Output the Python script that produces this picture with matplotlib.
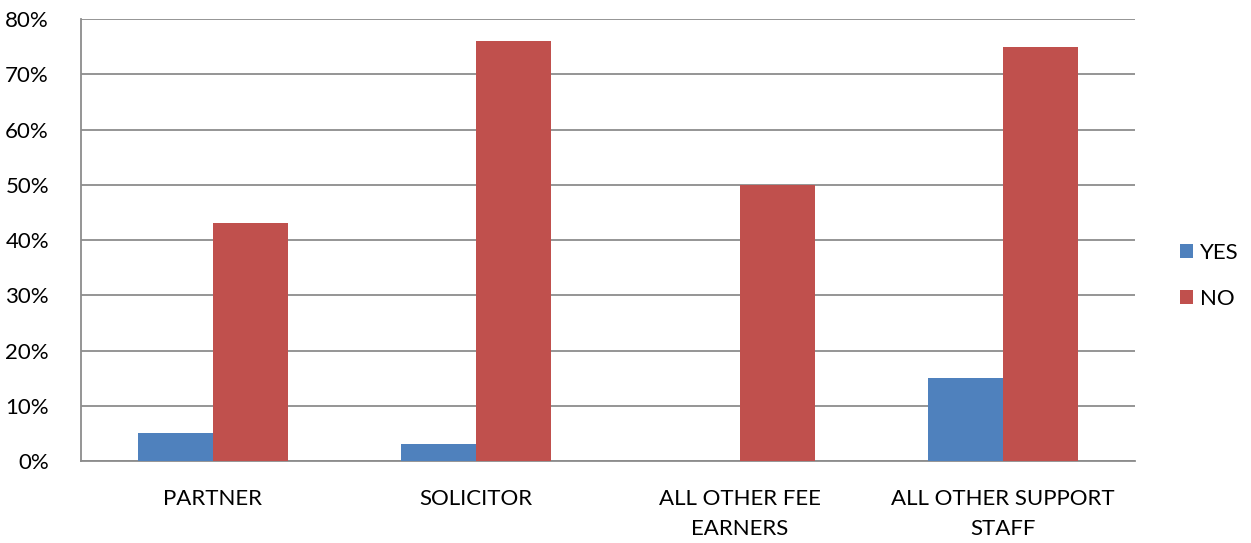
import matplotlib
matplotlib.use("Agg")
import matplotlib.pyplot as plt
import numpy as np

categories = ["PARTNER", "SOLICITOR", "ALL OTHER FEE\nEARNERS", "ALL OTHER SUPPORT\nSTAFF"]
yes_values = [5, 3, 0, 15]
no_values = [43, 76, 50, 75]
y_ticks = [0, 10, 20, 30, 40, 50, 60, 70, 80]

plt.rcParams['font.family'] = ['Lato', 'DejaVu Sans']

fig = plt.figure(figsize=(12.51, 5.43), dpi=100)
ax = fig.add_axes([0.0647, 0.151, 0.8426, 0.814])

x = np.arange(len(categories))
width = 0.285
ax.bar(x - width / 2, yes_values, width, color="#4F81BD", label="YES", zorder=3)
ax.bar(x + width / 2, no_values, width, color="#C0504D", label="NO", zorder=3)

ax.set_xlim(-0.5, len(categories) - 0.5)
ax.set_ylim(0, 80)
ax.set_yticks(y_ticks)
ax.set_yticklabels([f"{t}%" for t in y_ticks])
ax.set_xticks(x)
ax.set_xticklabels(categories, linespacing=1.65)
ax.tick_params(length=0, labelsize=16, colors="black")
ax.tick_params(axis="y", pad=23)
ax.tick_params(axis="x", pad=20)

ax.grid(axis="y", color="#8C8C8C", linewidth=1.3, zorder=0)
for side in ["top", "right"]:
    ax.spines[side].set_visible(False)
for side in ["left", "bottom"]:
    ax.spines[side].set_color("#8C8C8C")
    ax.spines[side].set_linewidth(1.3)

fig.legend(loc="center left", bbox_to_anchor=(0.936, 0.492), frameon=False,
           fontsize=16, handlelength=0.6, handleheight=0.6, handletextpad=0.3,
           labelspacing=1.2, borderaxespad=0)

fig.savefig("out.png", dpi=100)
